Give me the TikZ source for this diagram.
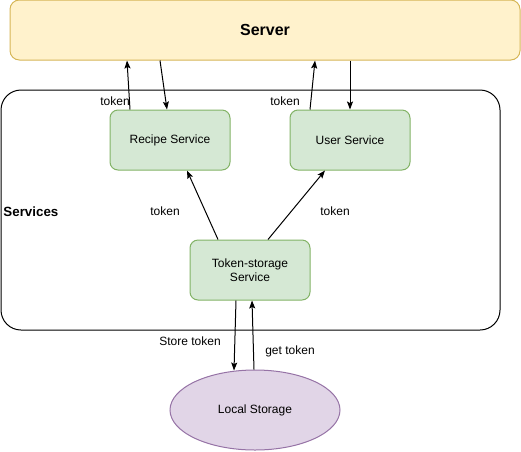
\documentclass[tikz,border=0pt]{standalone}
\usepackage{fontspec}
\setmainfont{Liberation Sans}
\usetikzlibrary{calc,shapes.geometric,arrows.meta}
\definecolor{srvfill}{HTML}{FFF2CC}
\definecolor{srvline}{HTML}{D6B656}
\definecolor{svcfill}{HTML}{D5E8D4}
\definecolor{svcline}{HTML}{82B366}
\definecolor{stofill}{HTML}{E1D5E7}
\definecolor{stoline}{HTML}{9673A6}
\tikzset{
  svc/.style={draw=svcline,fill=svcfill,rounded corners=6pt,minimum width=90pt,
    minimum height=45pt,inner sep=0pt,align=center,font=\fontsize{9}{10.5}\selectfont},
  lbl/.style={inner sep=0pt,font=\fontsize{9}{10.5}\selectfont},
}
\begin{document}
\begin{tikzpicture}[>={Stealth[length=6pt,width=4.5pt,inset=1.2pt]},x=0.75pt,y=-0.75pt,line width=0.75pt]
\useasboundingbox (0,0) rectangle (521,451);
\node[draw=srvline,fill=srvfill,rounded corners=7pt,minimum width=382.5pt,
  minimum height=45pt] (server) at (265,30) {\fontsize{12}{14}\selectfont\bfseries Server};
\node[draw,rounded corners=15pt,minimum width=374.25pt,minimum height=180pt] (box) at (250.5,210) {};
\node[anchor=west,inner sep=0pt,font=\fontsize{10}{12}\selectfont\bfseries] (services) at (3,212) {Services};
\node[svc] (recipe) at (170,140) {Recipe Service};
\node[svc] (user) at (350,140) {User Service};
\node[svc] (token) at (250,270) {Token-storage\\Service};
\node[ellipse,draw=stoline,fill=stofill,minimum width=127.5pt,minimum height=60pt,
  inner sep=0pt,font=\fontsize{9}{10.5}\selectfont] (local) at (255,410) {Local Storage};
% service <-> server
\draw[->] ($(recipe.north)+(-40,0)$) -- ($(server.south)+(-138,0)$);
\draw[->] ($(server.south)+(-105,0)$) -- ($(recipe.north)+(-3,0)$);
\draw[->] ($(user.north)+(-40,0)$) -- ($(server.south)+(50,0)$);
\draw[->] ($(server.south)+(85,0)$) -- (user.north);
% token-storage -> services
\draw[->] ($(token.north)+(-32,0)$) -- ($(recipe.south)+(17,0)$);
\draw[->] ($(token.north)+(18,0)$) -- ($(user.south)+(-25,0)$);
% token-storage <-> local storage
\draw[->] ($(token.south)+(-14,0)$) -- ($(local.north)+(-21,1)$);
\draw[->] ($(local.north)+(-1,0)$) -- ($(token.south)+(2,0)$);
\node[lbl] (tok1) at (115,101) {token};
\node[lbl] (tok2) at (285,101) {token};
\node[lbl] (tok3) at (165,211) {token};
\node[lbl] (tok4) at (335,211) {token};
\node[lbl] (store) at (190,341) {Store token};
\node[lbl] (get) at (290,351) {get token};
\end{tikzpicture}
\end{document}
